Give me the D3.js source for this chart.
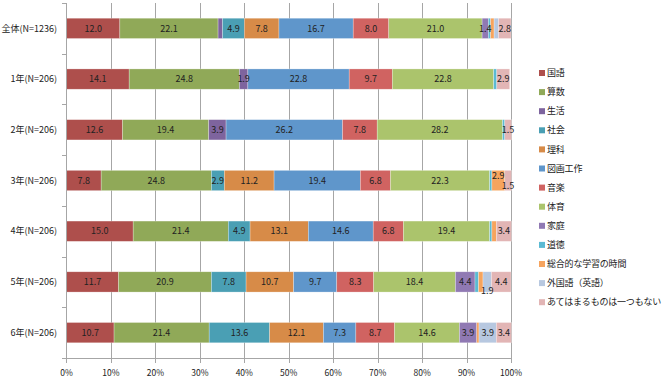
<!DOCTYPE html>
<html>
<head>
<meta charset="utf-8">
<script src="https://cdn.jsdelivr.net/npm/d3@7/dist/d3.min.js"></script>
<style>
body { margin: 0; background: #fff; }
svg text { font-family: "Noto Sans CJK JP", "Noto Sans", sans-serif; fill: #222; }
</style>
</head>
<body>
<svg id="chart" width="665" height="380"></svg>
<script>
var categories = ["全体(N=1236)", "1年(N=206)", "2年(N=206)", "3年(N=206)", "4年(N=206)", "5年(N=206)", "6年(N=206)"];
var subjects = ["国語", "算数", "生活", "社会", "理科", "図画工作", "音楽", "体育", "家庭", "道徳", "総合的な学習の時間", "外国語（英語）", "あてはまるものは一つもない"];
var colors = ["#AE4F4C", "#90A958", "#7E649E", "#4A9FB4", "#D78B48", "#5F96CB", "#D06361", "#ABC46C", "#9079B3", "#5BBAD3", "#F6A45E", "#B7C8E0", "#E2B5B5"];

// one array per subject, in the order of categories
var kokugo  = [12.0, 14.1, 12.6,  7.8, 15.0, 11.7, 10.7];
var sansu   = [22.1, 24.8, 19.4, 24.8, 21.4, 20.9, 21.4];
var seikatsu= [ 1.0,  1.9,  3.9,  0,    0,    0,    0  ];
var shakai  = [ 4.9,  0,    0,    2.9,  4.9,  7.8, 13.6];
var rika    = [ 7.8,  0,    0,   11.2, 13.1, 10.7, 12.1];
var zuga    = [16.7, 22.8, 26.2, 19.4, 14.6,  9.7,  7.3];
var ongaku  = [ 8.0,  9.7,  7.8,  6.8,  6.8,  8.3,  8.7];
var taiiku  = [21.0, 22.8, 28.2, 22.3, 19.4, 18.4, 14.6];
var katei   = [ 1.4,  0,    0,    0,    0,    4.4,  3.9];
var dotoku  = [ 0.5,  0.7,  0.5,  0.5,  0.5,  0.8,  0  ];
var sogo    = [ 0.8,  0,    0,    2.9,  1.0,  1.0,  0.5];
var gaikoku = [ 1.0,  0,    0,    0,    0,    1.9,  3.9];
var nashi   = [ 2.8,  2.9,  1.5,  1.5,  3.4,  4.4,  3.4];
var series = [kokugo, sansu, seikatsu, shakai, rika, zuga, ongaku, taiiku, katei, dotoku, sogo, gaikoku, nashi];
var xTicks = [0, 10, 20, 30, 40, 50, 60, 70, 80, 90, 100];

var svg = d3.select("#chart");

var x = d3.scaleLinear().domain([0, 100]).range([66.5, 511]);
var y = d3.scaleBand().domain(categories).range([3, 358]).paddingInner(0.6).paddingOuter(0.3);

// gridlines
svg.append("g").selectAll("line").data(xTicks.slice(1)).join("line")
    .attr("x1", function(d){ return Math.round(x(d)) + 0.5; })
    .attr("x2", function(d){ return Math.round(x(d)) + 0.5; })
    .attr("y1", 3).attr("y2", 363)
    .attr("stroke", "#a6a6a6");

// rows of stacked segments
var rows = categories.map(function(cat, i){
    var acc = 0;
    return subjects.map(function(s, j){
        var v = series[j][i];
        var seg = {cat: cat, subject: s, color: colors[j], x0: acc, x1: acc + v, v: v};
        acc += v;
        return seg;
    });
});

var segs = [].concat.apply([], rows);

svg.append("g").selectAll("rect").data(segs.filter(function(d){ return d.v > 0; })).join("rect")
    .attr("x", function(d){ return x(d.x0); })
    .attr("width", function(d){ return x(d.x1) - x(d.x0); })
    .attr("y", function(d){ return y(d.cat); })
    .attr("height", y.bandwidth())
    .attr("fill", function(d){ return d.color; })
    .attr("stroke", "rgba(255,255,255,0.45)")
    .attr("stroke-width", 0.6);

// a few labels were moved off the bar in the original
var labelNudge = {
    "3年(N=206)|総合的な学習の時間": -5,
    "3年(N=206)|あてはまるものは一つもない": 5,
    "5年(N=206)|外国語（英語）": 9
};

svg.append("g").selectAll("text").data(segs.filter(function(d){ return d.v >= 1.4; })).join("text")
    .attr("x", function(d){ return (x(d.x0) + x(d.x1)) / 2; })
    .attr("y", function(d){ return y(d.cat) + y.bandwidth() / 2 + (labelNudge[d.cat + "|" + d.subject] || 0); })
    .attr("dy", "0.35em")
    .attr("text-anchor", "middle")
    .style("font-size", "9px")
    .text(function(d){ return d.v.toFixed(1); });

// y axis
svg.append("line")
    .attr("x1", 66.5).attr("x2", 66.5).attr("y1", 3).attr("y2", 358)
    .attr("stroke", "#a6a6a6");
var bounds = categories.map(function(c){ return y(c) - y.step() * 0.3; }).concat([358]);
svg.append("g").selectAll("line").data(bounds).join("line")
    .attr("x1", 62).attr("x2", 66.5)
    .attr("y1", function(d){ return Math.round(d) + 0.5; })
    .attr("y2", function(d){ return Math.round(d) + 0.5; })
    .attr("stroke", "#a6a6a6");
svg.append("g").selectAll("text").data(categories).join("text")
    .attr("x", 57)
    .attr("y", function(d){ return y(d) + y.bandwidth() / 2; })
    .attr("dy", "0.35em")
    .attr("text-anchor", "end")
    .style("font-size", "9px")
    .text(function(d){ return d; });

// x axis
svg.append("line")
    .attr("x1", 66.5).attr("x2", 511).attr("y1", 358.5).attr("y2", 358.5)
    .attr("stroke", "#a6a6a6");
svg.append("line")
    .attr("x1", 66.5).attr("x2", 66.5).attr("y1", 358).attr("y2", 363)
    .attr("stroke", "#a6a6a6");
svg.append("g").selectAll("text").data(xTicks).join("text")
    .attr("x", function(d){ return x(d); })
    .attr("y", 373)
    .attr("dy", "0.35em")
    .attr("text-anchor", "middle")
    .style("font-size", "8.5px")
    .text(function(d){ return d + "%"; });

// legend
var legend = svg.append("g").selectAll("g").data(subjects).join("g")
    .attr("transform", function(d, i){ return "translate(539," + (73 + i * 19.1) + ")"; });
legend.append("rect")
    .attr("x", 0).attr("y", -3).attr("width", 6).attr("height", 6)
    .attr("fill", function(d, i){ return colors[i]; });
legend.append("text")
    .attr("x", 8).attr("y", 0).attr("dy", "0.35em")
    .style("font-size", "9px")
    .style("letter-spacing", "-0.2px")
    .text(function(d){ return d; });
</script>
</body>
</html>
